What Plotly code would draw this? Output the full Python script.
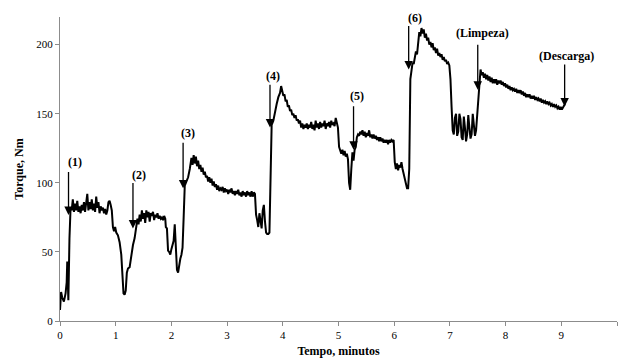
import plotly.graph_objects as go

# ---- data ----
tempo = [
    0.00, 0.02, 0.04, 0.07, 0.10, 0.12, 0.13, 0.15, 0.17, 0.19,
    0.21, 0.23, 0.25, 0.27, 0.29, 0.31, 0.33, 0.35, 0.37, 0.39, 0.41, 0.43, 0.45, 0.47, 0.49,
    0.51, 0.53, 0.55, 0.57, 0.59, 0.61, 0.63, 0.65, 0.67, 0.69, 0.71, 0.73, 0.75, 0.77, 0.79,
    0.81, 0.83, 0.85, 0.87, 0.89, 0.91, 0.93,
    0.95, 0.97, 0.99, 1.01, 1.04, 1.07, 1.10, 1.12, 1.14, 1.16, 1.18, 1.20, 1.22, 1.25, 1.28,
    1.31, 1.34, 1.37, 1.39, 1.41,
    1.43, 1.45, 1.47, 1.49, 1.51, 1.53, 1.55, 1.57, 1.59, 1.61, 1.63, 1.65, 1.67, 1.69, 1.71,
    1.73, 1.75, 1.77, 1.79, 1.81, 1.83, 1.85, 1.87, 1.89,
    1.90, 1.92, 1.94, 1.96, 1.98, 2.00, 2.02, 2.04, 2.06, 2.08, 2.10, 2.12, 2.14, 2.16, 2.18,
    2.20, 2.22, 2.24, 2.27, 2.30, 2.33, 2.36, 2.38, 2.40, 2.42, 2.44, 2.46, 2.48, 2.50, 2.52,
    2.54, 2.56, 2.58, 2.60, 2.62, 2.64, 2.66, 2.68, 2.70, 2.72, 2.74, 2.76, 2.78, 2.80, 2.82,
    2.84, 2.86, 2.88, 2.90, 2.92, 2.94, 2.96, 2.98, 3.00, 3.02, 3.04, 3.06, 3.08, 3.10, 3.12,
    3.14, 3.16, 3.18, 3.20, 3.22, 3.24, 3.26, 3.28, 3.30, 3.32, 3.34, 3.36, 3.38, 3.40, 3.42,
    3.44, 3.46, 3.48, 3.50,
    3.52, 3.54, 3.56, 3.58, 3.60, 3.62, 3.64, 3.66, 3.68, 3.70, 3.72, 3.74, 3.76, 3.78, 3.80,
    3.83, 3.86, 3.89, 3.92, 3.95, 3.97, 3.99, 4.01, 4.03, 4.05, 4.07, 4.09, 4.11, 4.13, 4.15,
    4.17, 4.19, 4.21, 4.23, 4.25, 4.27, 4.29, 4.31, 4.33, 4.35, 4.37, 4.39, 4.41, 4.43, 4.45,
    4.47, 4.49, 4.51, 4.53, 4.55, 4.57, 4.59, 4.61, 4.63, 4.65, 4.67, 4.69, 4.71, 4.73, 4.75,
    4.77, 4.79, 4.81, 4.83, 4.85, 4.87, 4.89, 4.91, 4.93, 4.95, 4.97, 4.99,
    5.01, 5.03, 5.05, 5.07, 5.09, 5.11, 5.13, 5.15, 5.17, 5.19, 5.21, 5.23, 5.25, 5.27, 5.29,
    5.31, 5.33, 5.35, 5.37, 5.39, 5.41, 5.43, 5.45, 5.47, 5.49, 5.51, 5.53, 5.55, 5.57, 5.59,
    5.61, 5.63, 5.65, 5.67, 5.69, 5.71, 5.73, 5.75, 5.77, 5.79, 5.81, 5.83, 5.85, 5.87, 5.89,
    5.91, 5.93, 5.95, 5.97, 5.99,
    6.01, 6.03, 6.05, 6.07, 6.09, 6.11, 6.13, 6.15, 6.17, 6.19, 6.21, 6.23, 6.25, 6.27, 6.29,
    6.31, 6.33, 6.35, 6.37, 6.39, 6.41, 6.43, 6.45, 6.47, 6.49, 6.51, 6.53, 6.55, 6.57, 6.59,
    6.61, 6.63, 6.65, 6.67, 6.69, 6.71, 6.73, 6.75, 6.77, 6.79, 6.81, 6.83, 6.85, 6.87, 6.89,
    6.91, 6.93, 6.95, 6.97, 6.99,
    7.01, 7.03, 7.05, 7.07, 7.09, 7.11, 7.13, 7.15, 7.17, 7.19, 7.21, 7.23, 7.25, 7.27, 7.29,
    7.31, 7.33, 7.35, 7.37, 7.39, 7.41, 7.43, 7.45, 7.47, 7.49, 7.51, 7.53, 7.55, 7.57, 7.59,
    7.61, 7.63, 7.65, 7.67, 7.69, 7.71, 7.73, 7.75, 7.77, 7.79, 7.81, 7.83, 7.85, 7.87, 7.89,
    7.91, 7.93, 7.95, 7.97, 7.99, 8.01, 8.03, 8.05, 8.07, 8.09, 8.11, 8.13, 8.15, 8.17, 8.19,
    8.21, 8.23, 8.25, 8.27, 8.29, 8.31, 8.33, 8.35, 8.37, 8.39, 8.41, 8.43, 8.45, 8.47, 8.49,
    8.51, 8.53, 8.55, 8.57, 8.59, 8.61, 8.63, 8.65, 8.67, 8.69, 8.71, 8.73, 8.75, 8.77, 8.79,
    8.81, 8.83, 8.85, 8.87, 8.89, 8.91, 8.93, 8.95, 8.97, 8.99, 9.01, 9.03, 9.05, 9.07,
]
torque = [
    8, 21, 17, 14, 20, 28, 43, 15, 60, 82,
    80, 88, 79, 85, 80, 87, 79, 83, 78, 84, 80, 86, 79, 84, 92,
    80, 86, 81, 88, 80, 85, 79, 90, 82, 86, 78, 83, 80, 82, 78,
    81, 77, 80, 86, 87, 84, 80,
    68, 65, 68, 64, 62, 57, 48, 30, 20, 19, 22, 35, 38, 39, 48,
    55, 60, 70, 74, 70,
    77, 72, 80, 74, 78, 71, 80, 75, 79, 72, 78, 76, 79, 73, 77,
    75, 78, 74, 76, 74, 75, 73, 76, 74,
    68, 67, 51, 50, 48, 52, 56, 58, 70, 56, 37, 35, 42, 45, 48,
    53, 75, 98, 101, 104, 110, 118, 113, 120, 114, 119, 112, 116, 110, 113,
    108, 111, 106, 108, 104, 105, 101, 104, 100, 103, 98, 101, 97, 99, 95,
    98, 94, 96, 95, 97, 93, 96, 94, 95, 92, 95, 93, 96, 92, 94,
    91, 94, 92, 95, 91, 93, 90, 94, 91, 93, 90, 94, 91, 93, 90,
    94, 90, 93, 92,
    77, 73, 68, 78, 70, 67, 80, 84, 72, 64, 63, 63, 64, 100, 142,
    145, 152, 157, 162, 165, 170, 166, 163, 164, 159, 160, 155, 156, 152, 153,
    149, 150, 147, 149, 145, 146, 143, 145, 140, 143, 139, 142, 140, 143, 139,
    142, 140, 144, 139, 142, 138, 145, 140, 143, 139, 144, 140, 143, 141, 145,
    139, 143, 141, 144, 140, 145, 142, 143, 141, 147, 144, 140,
    126, 123, 121, 124, 120, 123, 119, 121, 117, 100, 95, 110, 122, 116, 124,
    126, 133, 135, 134, 137, 135, 138, 134, 137, 133, 136, 134, 138, 133, 135,
    132, 135, 132, 134, 131, 133, 130, 133, 130, 132, 129, 131, 129, 131, 128,
    131, 129, 131, 130, 131,
    115, 110, 114, 109, 113, 111, 115, 110, 106, 102, 98, 96, 96, 110, 175,
    183, 187, 186, 192, 195, 193, 205, 209, 206, 212, 208, 211, 205, 208, 203,
    205, 200, 202, 198, 201, 196, 198, 194, 197, 192, 194, 191, 193, 189, 191,
    188, 189, 186, 187, 185,
    175, 155, 138, 135, 147, 150, 134, 137, 150, 146, 133, 131, 148, 140, 130,
    135, 149, 140, 132, 135, 150, 142, 134, 138, 150, 154, 170, 182, 178, 180,
    176, 179, 175, 178, 174, 177, 173, 176, 172, 175, 172, 175, 171, 174, 172,
    174, 171, 173, 170, 172, 169, 171, 168, 170, 167, 169, 167, 168, 166, 168,
    165, 167, 165, 167, 164, 166, 163, 165, 162, 164, 162, 164, 161, 163, 161,
    163, 160, 162, 160, 161, 159, 161, 158, 160, 158, 159, 157, 159, 157, 158,
    156, 157, 155, 157, 155, 156, 154, 155, 153, 155, 153, 155, 156, 157,
]

event_labels = ["(1)", "(2)", "(3)", "(4)", "(5)", "(6)", "(Limpeza)", "(Descarga)"]
label_x = [0.275, 1.41, 2.30, 3.82, 5.34, 6.37, 7.59, 9.09]
label_y = [115.4, 105.7, 136.0, 177.5, 162.5, 219.5, 208.5, 191.6]
arrow_x = [0.153, 1.31, 2.21, 3.77, 5.27, 6.26, 7.50, 9.06]
arrow_top = [109.0, 101.0, 130.0, 172.0, 156.5, 214.6, 201.0, 186.8]
arrow_tip = [76.7, 67.0, 96.0, 140.0, 124.0, 182.0, 167.4, 155.3]

x_ticks = [0, 1, 2, 3, 4, 5, 6, 7, 8, 9, 10]
y_ticks = [0, 50, 100, 150, 200]

FONT = "Liberation Serif"

fig = go.Figure()
fig.add_trace(go.Scatter(
    x=tempo, y=torque, mode="lines",
    line=dict(color="black", width=2),
    hoverinfo="skip", showlegend=False,
))

annotations = []
for lab, lx, ly, axx, at, tip in zip(event_labels, label_x, label_y, arrow_x, arrow_top, arrow_tip):
    annotations.append(dict(
        x=axx, y=tip, ax=axx, ay=at, xref="x", yref="y", axref="x", ayref="y",
        text="", showarrow=True, arrowhead=2, arrowsize=1.3, arrowwidth=1.3,
        arrowcolor="black", standoff=0,
    ))
    annotations.append(dict(
        x=lx, y=ly, xref="x", yref="y", text="<b>%s</b>" % lab, showarrow=False,
        font=dict(family=FONT, size=12, color="black"),
        xanchor="center", yanchor="middle",
    ))

fig.update_layout(
    width=622, height=361,
    margin=dict(l=60, r=5, t=17, b=40),
    paper_bgcolor="white", plot_bgcolor="white",
    font=dict(family=FONT, size=11, color="black"),
    annotations=annotations,
    xaxis=dict(
        range=[0, 10], tickvals=x_ticks, ticktext=[str(v) for v in x_ticks],
        showgrid=False, zeroline=False, showline=True, linecolor="#8c8c8c", linewidth=1,
        ticks="outside", ticklen=4, tickcolor="#8c8c8c",
        tickfont=dict(family=FONT, size=11, color="black"),
        title=dict(text="<b>Tempo, minutos</b>", font=dict(family=FONT, size=12, color="black"), standoff=6),
    ),
    yaxis=dict(
        range=[0, 220], tickvals=y_ticks, ticktext=[str(v) for v in y_ticks],
        showgrid=False, zeroline=False, showline=True, linecolor="#8c8c8c", linewidth=1,
        ticks="outside", ticklen=4, tickcolor="#8c8c8c",
        tickfont=dict(family=FONT, size=11, color="black"),
        title=dict(text="<b>Torque, Nm</b>", font=dict(family=FONT, size=12, color="black"), standoff=10),
    ),
)

fig.write_html("out.html")
